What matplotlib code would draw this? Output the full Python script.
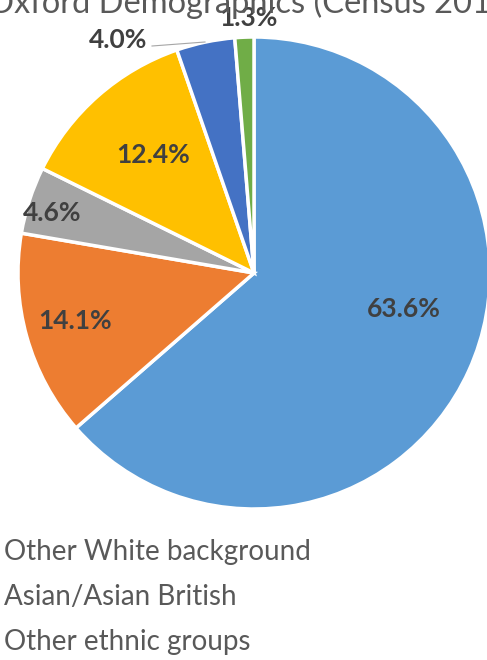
import matplotlib.pyplot as plt

# Oxford ethnic groups, Census 2011 (% of population)
groups = ['White British', 'Other White background', 'Mixed', 'Asian/Asian British',
          'Black/Black British', 'Other ethnic groups']
shares = [63.6, 14.1, 4.6, 12.4, 4.0, 1.3]
colors = ['#5B9BD5', '#ED7D31', '#A5A5A5', '#FFC000', '#4472C4', '#70AD47']
legend_shown = ['Other White background', 'Asian/Asian British', 'Other ethnic groups']

W, H = 487, 660
fig = plt.figure(figsize=(W / 100, H / 100), dpi=100)
ax = fig.add_axes([0, 0, 1, 1])

cx, cy, r = 254, H - 273, 236
wedges, _ = ax.pie(shares, colors=colors, startangle=90, counterclock=False,
                   center=(cx, cy), radius=r, frame=True,
                   wedgeprops=dict(edgecolor='white', linewidth=2.5))

# label spots (pixel coords from top-left), Excel-style placement
label_xy = [(404, 309), (75, 321), (52, 213), (153, 155), (118, 40), (248, 18)]
font = 'Lato'
for v, (x, y) in zip(shares, label_xy):
    ax.text(x, H - y, f'{v:.1f}%', ha='center', va='center', fontsize=19,
            fontweight='bold', color='#404040', family=font)

# leader line for the small 4.0% slice
ax.plot([152, 205], [H - 46, H - 42], color='#A6A6A6', lw=0.8)

ax.text(253, H - 13, 'Oxford Demographics (Census 2011)', ha='center', va='baseline',
        fontsize=23.5, color='#595959', family=font)

for i, name in enumerate(legend_shown):
    ax.text(4, H - (552 + 45 * i), name, ha='left', va='center',
            fontsize=20, color='#595959', family=font)

ax.set_xlim(0, W)
ax.set_ylim(0, H)
ax.set_aspect('equal')
ax.axis('off')

fig.savefig('out.png', dpi=100)
